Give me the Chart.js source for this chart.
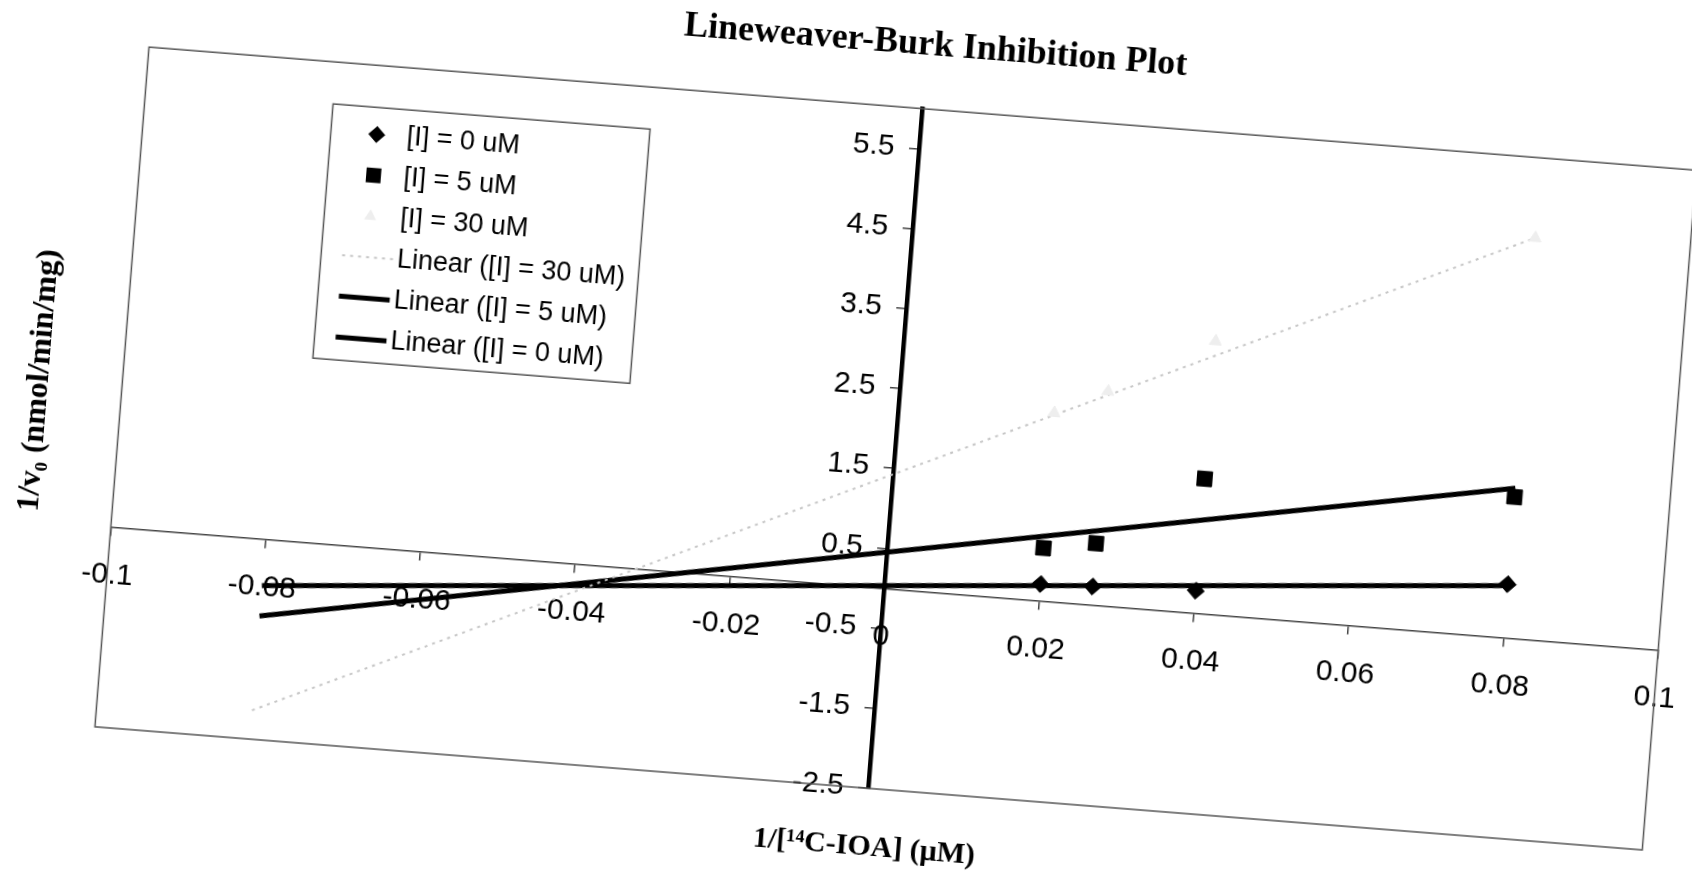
<!DOCTYPE html>
<html>
<head>
<meta charset="utf-8">
<title>Lineweaver-Burk Inhibition Plot</title>
<script src="https://cdn.jsdelivr.net/npm/chart.js@4.4.1/dist/chart.umd.min.js"></script>
<style>
  html, body { margin: 0; padding: 0; background: #fff; overflow: hidden; width: 1692px; height: 880px; }
  #wrap { position: absolute; left: 0; top: 0; width: 1811px; height: 868px; }
</style>
</head>
<body>
<div id="wrap"><canvas id="chart" width="1811" height="868"></canvas></div>
<script>
// values
const xValues = [0.02, 0.0267, 0.04, 0.08];
const inh0uM = [0.21, 0.23, 0.28, 0.67];
const inh5uM = [0.66, 0.77, 1.68, 1.76];
const inh30uM = [2.35, 2.67, 3.4, 5.0];

// trendline ends (Excel linear trendlines, forecast back to -0.08)
const fitX = [-0.08, 0.08];
const fit0uM = [-0.58, 0.65];
const fit5uM = [-0.96, 1.87];
const fit30uM = [-2.14, 5.0];

const xTicks = [-0.1, -0.08, -0.06, -0.04, -0.02, 0, 0.02, 0.04, 0.06, 0.08, 0.1];
const yTicks = [-2.5, -1.5, -0.5, 0.5, 1.5, 2.5, 3.5, 4.5, 5.5];

const sans = "'Liberation Sans', Arial, sans-serif";
const serif = "'Liberation Serif', 'Times New Roman', 'DejaVu Serif', serif";

// where the data origin sits on the page, and the scan tilt
const originOnPage = [884.5, 588.5];
const tilt = 4.55;

const pts = (xs, ys) => xs.map((x, i) => ({ x: x, y: ys[i] }));

// plot frame
const areaBorder = {
    id: 'areaBorder',
    beforeDatasetsDraw(chart) {
        const { ctx, chartArea: a } = chart;
        ctx.save();
        ctx.strokeStyle = '#555';
        ctx.lineWidth = 1.5;
        ctx.strokeRect(a.left, a.top, a.right - a.left, a.bottom - a.top);
        ctx.restore();
    }
};

// excel style boxed legend inside the plot
const boxLegend = {
    id: 'boxLegend',
    afterDatasetsDraw(chart, args, o) {
        const { ctx, chartArea: a } = chart;
        const x0 = a.left + o.left, y0 = a.top + o.top;
        ctx.save();
        ctx.fillStyle = '#fff';
        ctx.fillRect(x0, y0, o.width, o.height);
        ctx.strokeStyle = '#555';
        ctx.lineWidth = 1.5;
        ctx.strokeRect(x0, y0, o.width, o.height);
        ctx.font = o.fontSize + 'px ' + sans;
        ctx.textBaseline = 'middle';
        ctx.textAlign = 'left';
        chart.data.datasets.forEach((ds, i) => {
            const y = y0 + o.first + i * o.step;
            const cx = x0 + o.markerX;
            ctx.fillStyle = ds.backgroundColor;
            ctx.strokeStyle = ds.borderColor;
            if (ds.showLine) {
                ctx.lineWidth = ds.borderWidth;
                ctx.setLineDash(ds.borderDash || []);
                ctx.beginPath();
                ctx.moveTo(x0 + o.lineFrom, y);
                ctx.lineTo(x0 + o.lineTo, y);
                ctx.stroke();
                ctx.setLineDash([]);
            } else {
                const r = ds.pointRadius;
                ctx.beginPath();
                if (ds.pointStyle === 'rectRot') {
                    ctx.moveTo(cx - r, y); ctx.lineTo(cx, y - r);
                    ctx.lineTo(cx + r, y); ctx.lineTo(cx, y + r);
                } else if (ds.pointStyle === 'rect') {
                    const s = r * Math.SQRT1_2;
                    ctx.rect(cx - s, y - s, 2 * s, 2 * s);
                } else {
                    ctx.moveTo(cx, y - r); ctx.lineTo(cx + r * 0.87, y + r / 2);
                    ctx.lineTo(cx - r * 0.87, y + r / 2);
                }
                ctx.closePath();
                ctx.fill();
            }
            ctx.fillStyle = '#000';
            ctx.fillText(ds.label, x0 + o.textX, y);
        });
        ctx.restore();
    }
};

const tickGrid = { display: true, drawOnChartArea: false, drawTicks: true, tickLength: 8, color: '#444', lineWidth: 1.5 };
const hiddenScale = { ticks: { display: false }, grid: { display: false, drawTicks: false }, border: { display: false } };

const chart = new Chart(document.getElementById('chart'), {
    type: 'scatter',
    data: {
        datasets: [
            { label: '[I] = 0 uM', data: pts(xValues, inh0uM), pointStyle: 'rectRot', pointRadius: 8.5,
              backgroundColor: '#000', borderColor: '#000', borderWidth: 1 },
            { label: '[I] = 5 uM', data: pts(xValues, inh5uM), pointStyle: 'rect', pointRadius: 10.5,
              backgroundColor: '#000', borderColor: '#000', borderWidth: 1 },
            { label: '[I] = 30 uM', data: pts(xValues, inh30uM), pointStyle: 'triangle', pointRadius: 7,
              backgroundColor: '#eeeeee', borderColor: '#eeeeee', borderWidth: 1 },
            { label: 'Linear ([I] = 30 uM)', data: pts(fitX, fit30uM), showLine: true, pointRadius: 0,
              borderColor: '#c6c6c6', backgroundColor: '#c6c6c6', borderWidth: 2, borderDash: [3, 5] },
            { label: 'Linear ([I] = 5 uM)', data: pts(fitX, fit5uM), showLine: true, pointRadius: 0,
              borderColor: '#000', backgroundColor: '#000', borderWidth: 5 },
            { label: 'Linear ([I] = 0 uM)', data: pts(fitX, fit0uM), showLine: true, pointRadius: 0,
              borderColor: '#000', backgroundColor: '#000', borderWidth: 5 }
        ]
    },
    options: {
        responsive: false,
        animation: false,
        layout: { padding: 10 },
        plugins: {
            legend: { display: false },
            tooltip: { enabled: false },
            title: {
                display: true,
                text: 'Lineweaver-Burk Inhibition Plot',
                color: '#000',
                font: { family: serif, size: 36, weight: 'bold', lineHeight: 1.2 },
                padding: { top: 0, bottom: 42 }
            },
            boxLegend: { left: 188, top: 42, width: 318, height: 255, first: 27, step: 41,
                         markerX: 46, lineFrom: 21, lineTo: 72, textX: 76, fontSize: 27 }
        },
        scales: {
            x: {
                type: 'linear', min: -0.1, max: 0.1,
                position: { y: 0 },
                afterBuildTicks: s => { s.ticks = xTicks.map(v => ({ value: v })); },
                ticks: { autoSkip: false, maxRotation: 0, padding: 22, color: '#000',
                         font: { family: sans, size: 30 }, callback: v => String(v) },
                grid: tickGrid,
                border: { display: true, color: '#444', width: 1.5 }
            },
            y: {
                type: 'linear', min: -2.5, max: 6,
                position: { x: 0 },
                afterBuildTicks: s => { s.ticks = yTicks.map(v => ({ value: v })); },
                // centred axis puts labels flush to the line, trailing spaces give the gap
                ticks: { color: '#000', font: { family: sans, size: 30 }, callback: v => String(v) + '   ' },
                grid: tickGrid,
                border: { display: true, color: '#000', width: 4.5 }
            },
            xName: Object.assign({
                type: 'linear', axis: 'x', position: 'bottom', display: true, min: -0.1, max: 0.1,
                title: { display: true, text: '1/[¹⁴C-IOA] (μM)', color: '#000',
                         font: { family: serif, size: 30, weight: 'bold' }, padding: { top: 41, bottom: 4 } }
            }, hiddenScale),
            yName: Object.assign({
                type: 'linear', axis: 'y', position: 'left', display: true, min: -2.5, max: 6,
                title: { display: true, text: '1/v₀ (nmol/min/mg)', color: '#000',
                         font: { family: serif, size: 32, weight: 'bold' }, padding: { top: 10, bottom: 63 } }
            }, hiddenScale),
            // empty strip on the right so the page title lands over the y axis
            rightStrip: Object.assign({
                type: 'linear', axis: 'y', position: 'right', display: true, min: -2.5, max: 6,
                afterFit: s => { s.width = 127.4; }
            }, hiddenScale)
        }
    },
    plugins: [areaBorder, boxLegend]
});

// put the data origin where it is on the scan and tilt like the scan
const ox = chart.scales.x.getPixelForValue(0);
const oy = chart.scales.y.getPixelForValue(0);
const wrap = document.getElementById('wrap');
wrap.style.left = (originOnPage[0] - ox) + 'px';
wrap.style.top = (originOnPage[1] - oy) + 'px';
wrap.style.transformOrigin = ox + 'px ' + oy + 'px';
wrap.style.transform = 'rotate(' + tilt + 'deg)';
</script>
</body>
</html>
